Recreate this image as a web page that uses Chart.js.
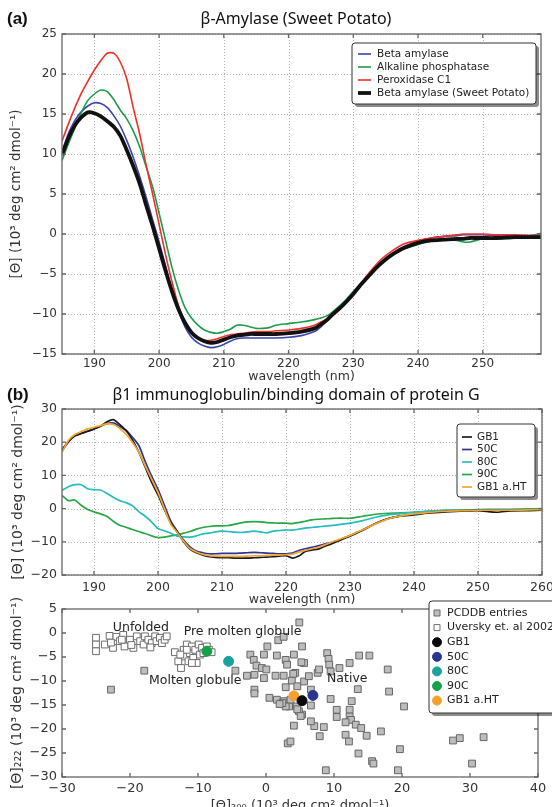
<!DOCTYPE html>
<html>
<head>
<meta charset="utf-8">
<title>CD spectra</title>
<script src="https://cdn.jsdelivr.net/npm/chart.js@4.4.1/dist/chart.umd.min.js"></script>
<style>
  html, body { margin: 0; padding: 0; background: #fff; }
  body { position: relative; width: 552px; height: 807px; overflow: hidden; }
  canvas { position: absolute; left: 0; }
</style>
</head>
<body>
<canvas id="amylase" width="552" height="385" style="top:0px"></canvas>
<canvas id="gb1" width="552" height="230" style="top:380px"></canvas>
<canvas id="cluster" width="552" height="225" style="top:595px"></canvas>
<script>
// (a) beta-amylase CD spectra, wavelength in nm
var waveA = [185,186,187,188,189,190,191,192,193,194,195,196,197,198,199,200,201,202,203,204,205,206,207,208,209,210,211,212,213,214,215,216,217,218,220,222,224,225,226,227,228,229,230,231,232,233,234,235,236,237,238,240,242,244,246,247,248,249,250,252,255,258,259];
var betaAmylase = [10.3,12.6,14.2,15.3,16.0,16.4,16.3,15.8,14.8,13.5, 11.7,9.6,7.2,4.6,1.8,-1.0,-4.0,-7.0,-9.6,-11.6, -12.9,-13.6,-14.0,-14.2,-14.1,-13.8,-13.4,-13.1,-13.0,-13.0, -13.0,-13.0,-13.0,-13.0, -12.9,-12.7,-12.2, -11.6,-10.8,-10.0,-9.2,-8.3,-7.4,-6.4,-5.4,-4.5,-3.7,-3.0,-2.4,-1.9,-1.5, -0.9,-0.5,-0.3,-0.2, -0.1,-0.1,-0.1,-0.1, -0.2,-0.2,-0.2,-0.2];
var alkPhosphatase = [9.2,11.3,13.3,15.2,16.7,17.5,18.0,17.8,16.8,15.5, 14.4,12.9,10.9,8.4,5.9,2.6,-0.8,-4.2,-7.0,-9.2, -10.5,-11.4,-12.0,-12.3,-12.4,-12.2,-11.9,-11.4,-11.4,-11.6, -11.8,-11.8,-11.7,-11.4, -11.2,-11.0,-10.7, -10.5,-10.2,-9.6,-8.9,-8.1,-7.2,-6.3,-5.4,-4.6,-3.8,-3.1,-2.6,-2.1,-1.8, -1.3,-0.9,-0.7,-0.8, -1.0,-1.0,-0.8,-0.6, -0.6,-0.5,-0.1,0.1];
var peroxidaseC1 = [11.6,13.8,15.8,17.6,19.1,20.5,21.7,22.6,22.6,21.5, 19.4,15.8,12.5,8.6,5.0,1.2,-2.6,-6.0,-9.0,-11.1, -12.4,-13.1,-13.3,-13.3,-13.1,-12.8,-12.6,-12.5,-12.4,-12.3, -12.2,-12.2,-12.2,-12.1, -12.0,-11.8,-11.4, -11.0,-10.6,-10.1,-9.4,-8.5,-7.5,-6.4,-5.3,-4.3,-3.4,-2.7,-2.1,-1.6,-1.2, -0.8,-0.5,-0.3,-0.1, 0.0,0.0,0.0,0.0, -0.1,-0.1,-0.2,-0.2];
var sweetPotato = [9.9,12.0,13.6,14.6,15.2,15.1,14.7,14.1,13.4,12.3, 10.5,8.5,6.3,3.6,1.0,-1.8,-4.6,-7.2,-9.4,-11.1, -12.3,-13.0,-13.4,-13.6,-13.5,-13.2,-12.9,-12.7,-12.6,-12.5, -12.5,-12.5,-12.5,-12.5, -12.4,-12.2,-11.8, -11.3,-10.7,-9.9,-9.2,-8.4,-7.5,-6.5,-5.6,-4.7,-3.9,-3.2,-2.6,-2.1,-1.7, -1.1,-0.8,-0.7,-0.6, -0.6,-0.5,-0.5,-0.5, -0.5,-0.4,-0.4,-0.4];
var xTicksA = [190,200,210,220,230,240,250];
var yTicksA = [-15,-10,-5,0,5,10,15,20,25];

// (b) GB1 spectra at different temperatures
var waveB = [185,186,187,188,189,190,191,192,193,194,195,196,197,198,199,200,201,202,203,204,205,206,207,208,209,210,211,212,213,214,215,216,217,218,219,220,221,222,223,224,225,226,227,228,229,230,232,234,236,238,240,242,245,248,250,253,255,258,260];
var gb1Native = [17.8,20.2,21.9,22.6,23.3,24.0,24.8,26.1,26.8,25.4, 23.5,20.7,17.0,12.5,8.0,4.1,-0.3,-4.3,-7.0,-10.0, -12.2,-13.3,-14.0,-14.5,-14.7,-14.8,-14.8,-14.9,-14.9,-14.9, -14.8,-14.7,-14.6,-14.5,-14.3,-14.2,-14.9,-14.3,-12.9,-12.5, -12.2,-11.4,-10.7,-9.9,-9.1,-8.3, -6.5,-4.5,-3.0,-2.2,-1.9,-1.4,-1.0,-0.7,-0.6,-1.1,-0.7,-0.6,-0.5];
var gb1At50 = [17.3,20.0,21.9,22.6,23.3,24.0,24.8,25.6,25.8,24.8, 23.6,21.5,19.0,14.2,9.8,5.8,1.0,-3.8,-6.8,-9.5, -11.5,-12.8,-13.3,-13.6,-13.6,-13.5,-13.5,-13.5,-13.4,-13.3, -13.2,-13.3,-13.4,-13.5,-13.6,-13.6,-13.4,-12.6,-12.1,-11.7, -11.2,-10.7,-10.2,-9.7,-8.9,-8.1, -6.4,-4.5,-3.0,-2.2,-1.7,-1.3,-0.8,-0.6,-0.5,-0.5,-0.5,-0.5,-0.5];
var gb1At80 = [5.5,6.6,7.2,7.2,6.0,5.7,5.6,4.6,3.4,2.4, 1.8,0.9,-0.9,-2.3,-4.0,-6.0,-6.7,-7.4,-8.3,-8.5, -8.6,-8.2,-7.6,-7.4,-7.0,-6.8,-6.9,-7.1,-7.2,-7.0, -6.8,-7.0,-7.3,-6.8,-6.6,-6.4,-6.5,-6.2,-5.9,-5.7, -5.5,-5.3,-5.1,-4.9,-4.6,-4.4, -3.6,-2.6,-1.9,-1.5,-1.1,-0.8,-0.5,-0.5,-0.5,-0.4,-0.4,-0.3,-0.3];
var gb1At90 = [4.0,2.4,2.6,1.0,-0.3,-1.0,-1.6,-2.3,-3.8,-5.0, -5.6,-6.3,-6.9,-7.5,-8.2,-8.7,-8.6,-8.2,-7.9,-7.4, -6.9,-6.2,-5.7,-5.4,-5.2,-5.2,-5.1,-4.7,-4.3,-4.0, -3.9,-4.0,-4.2,-4.3,-4.4,-4.4,-4.5,-4.2,-3.8,-3.4, -3.2,-3.1,-3.0,-2.9,-2.9,-2.9, -2.3,-1.7,-1.4,-1.3,-1.1,-0.8,-0.5,-0.4,-0.3,-0.2,-0.2,-0.1,0.0];
var gb1AfterHeat = [17.0,20.5,22.3,23.2,24.0,24.5,25.0,25.5,25.4,24.2, 22.4,20.0,17.0,12.9,8.9,4.8,0.0,-4.7,-7.2,-9.8, -12.0,-13.1,-13.8,-14.2,-14.3,-14.4,-14.4,-14.4,-14.4,-14.3, -14.2,-14.2,-14.1,-14.0,-14.0,-13.9,-13.7,-13.1,-12.6,-12.1, -11.7,-11.0,-10.2,-9.5,-8.8,-8.1, -6.4,-4.6,-3.1,-2.2,-1.6,-1.2,-0.8,-0.6,-0.5,-0.5,-0.5,-0.4,-0.3];
var xTicksB = [190,200,210,220,230,240,250,260];
var yTicksB = [-20,-10,0,10,20,30];

// (c) [Θ]200 against [Θ]222 for database entries
var pcddbEntries = [[-22.8,-11.8],[-17.9,-7.85],[-4.5,-7.85],[-2.8,-8.9],[-2.3,-4.5],[-1.8,-5.6],[-1.7,-8.7],[-1.4,-6.8],[-0.6,-7.3],[-0.3,-4.5],[-0.3,-9.4],[-1.7,-11.8],[-1.7,-12.6],[0.2,-2.8],[0.05,-7.6],[0.5,-13.5],[1.4,-8.9],[1.6,-4.7],[1.8,-1.5],[2.6,-0.8],[2.6,-8.9],[2.9,-5.6],[1.6,-13.9],[2.6,-14.2],[2.9,-11.3],[3.4,-15.3],[3.6,-13.9],[3.8,-9.9],[4.1,-4.5],[4.1,-19.3],[4.3,-8.3],[4.6,-11.1],[4.9,2.2],[5.3,-2.8],[5.6,-6.25],[5.3,-17.0],[3.2,-23.0],[3.6,-22.6],[3.1,-6.6],[4.0,-8.5],[5.2,-6.1],[5.6,-10.1],[6.3,-9.0],[6.6,-11.8],[7.6,-8.3],[7.8,-7.6],[9.0,-4.2],[9.2,-5.4],[9.3,-6.6],[9.5,-8.0],[10.8,-7.3],[12.3,-6.25],[13.7,-4.7],[15.2,-4.7],[17.9,-7.6],[13.5,-11.7],[18.1,-12.2],[9.5,-13.75],[12.6,-14.2],[20.3,-15.3],[10.4,-16.0],[10.4,-17.5],[12.3,-16.0],[12.3,-17.4],[12.5,-18.1],[11.7,-18.6],[13.2,-19.1],[14.0,-19.8],[14.8,-21.4],[16.9,-20.5],[11.7,-21.2],[12.2,-22.6],[7.9,-21.5],[8.5,-19.6],[7.1,-19.4],[6.6,-18.4],[6.6,-15.1],[4.5,-15.3],[4.85,-16.3],[2.9,-15.3],[2.4,-14.6],[2.0,-14.8],[4.6,-15.9],[5.1,-17.3],[13.6,-25.1],[15.6,-26.7],[15.8,-27.2],[8.8,-28.6],[19.4,-28.6],[19.7,-24.2],[27.5,-22.4],[28.5,-21.9],[32.0,-21.7],[30.3,-27.2]];
var uverskyEntries = [[-25.0,-1.0],[-25.0,-2.4],[-25.0,-3.8],[-23.7,-2.4],[-23.0,-0.6],[-22.5,-3.1],[-22.0,-0.8],[-21.5,-1.7],[-21.0,-0.4],[-20.8,-2.8],[-20.0,-1.4],[-19.5,-3.1],[-19.0,-0.7],[-18.5,-1.7],[-18.0,-2.4],[-17.8,-0.7],[-17.3,-1.4],[-16.8,-2.1],[-16.3,-0.7],[-16.1,-1.7],[-15.6,-1.0],[-15.3,-2.1],[-14.9,-1.4],[-14.6,-0.7],[-19.8,-2.5],[-21.2,-1.4],[-22.8,-2.0],[-17.0,-3.0],[-13.4,-4.0],[-12.9,-5.9],[-12.5,-7.3],[-12.1,-3.5],[-11.9,-4.9],[-11.65,-2.4],[-11.4,-5.9],[-11.2,-4.2],[-10.9,-2.8],[-10.7,-5.2],[-10.4,-3.5],[-10.2,-6.25],[-9.9,-2.4],[-9.7,-4.5],[-9.4,-3.1],[-9.2,-4.2],[-8.7,-2.8],[-8.4,-3.5],[-8.0,-4.0],[-10.9,-6.25],[-11.65,-3.5],[-12.6,-4.5]];
var gb1States = ['GB1', '50C', '80C', '90C', 'GB1 a.HT'];
var gb1Theta200 = [5.3, 6.9, -5.5, -8.7, 4.1];
var gb1Theta222 = [-14.1, -13.0, -5.9, -3.8, -13.1];
var regionNames = ['Unfolded', 'Pre molten globule', 'Molten globule', 'Native'];
var regionX = [-18.4, -3.45, -10.4, 11.95];
var regionY = [1.1, 0.35, -9.85, -9.6];
var xTicksC = [-30,-20,-10,0,10,20,30,40];
var yTicksC = [-30,-25,-20,-15,-10,-5,0,5];

var FONT = "'DejaVu Sans'";
var THETA = '[\u0398]';
var UNITS = ' (10\u00b3 deg cm\u00b2 dmol\u207b\u00b9)';

function pairs(xs, ys) {
  return xs.map(function (x, i) { return {x: x, y: ys[i]}; });
}
function points(list) {
  return list.map(function (p) { return {x: p[0], y: p[1]}; });
}
function fixedTicks(values) {
  return function (scale) {
    scale.ticks = values.map(function (v) { return {value: v}; });
  };
}
function minusSign(v) {
  return String(v).replace('-', '\u2212');
}

function makeScales(c) {
  return {
    x: {
      type: 'linear', min: c.xMin, max: c.xMax,
      afterBuildTicks: fixedTicks(c.xTicks),
      afterFit: function (s) { s.height = c.xHeight; s.paddingLeft = 0; s.paddingRight = 0; },
      grid: {display: false, drawTicks: false},
      border: {display: false},
      ticks: {color: '#333', padding: c.xTickPad, maxRotation: 0, autoSkip: false,
              font: {family: FONT, size: c.tickSize}, callback: minusSign},
      title: {display: true, text: c.xTitle, color: '#333',
              font: {family: FONT, size: c.xTitleSize}, padding: {top: 0, bottom: c.xTitlePad}}
    },
    y: {
      type: 'linear', min: c.yMin, max: c.yMax,
      afterBuildTicks: fixedTicks(c.yTicks),
      afterFit: function (s) { s.width = 62; s.paddingTop = 0; s.paddingBottom = 0; },
      grid: {display: false, drawTicks: false},
      border: {display: false},
      ticks: {color: '#333', padding: 5, autoSkip: false,
              font: {family: FONT, size: c.tickSize}, callback: minusSign},
      title: {display: true, text: c.yTitle, color: '#333',
              font: {family: FONT, size: c.yTitleSize}, padding: {top: c.yTitlePad, bottom: 0}}
    }
  };
}

// dotted grid under the data, box and inward tick marks over it
var frame = {
  id: 'frame',
  beforeDatasetsDraw: function (chart, args, opts) {
    if (!opts.grid) return;
    var a = chart.chartArea, ctx = chart.ctx, sx = chart.scales.x, sy = chart.scales.y;
    ctx.save();
    ctx.strokeStyle = '#b5b5b5';
    ctx.lineWidth = 1;
    ctx.setLineDash([1, 2]);
    ctx.beginPath();
    sx.ticks.forEach(function (t) {
      var px = Math.round(sx.getPixelForValue(t.value)) + 0.5;
      ctx.moveTo(px, a.top); ctx.lineTo(px, a.bottom);
    });
    sy.ticks.forEach(function (t) {
      var py = Math.round(sy.getPixelForValue(t.value)) + 0.5;
      ctx.moveTo(a.left, py); ctx.lineTo(a.right, py);
    });
    ctx.stroke();
    ctx.restore();
  },
  afterDatasetsDraw: function (chart) {
    var a = chart.chartArea, ctx = chart.ctx, sx = chart.scales.x, sy = chart.scales.y;
    ctx.save();
    ctx.strokeStyle = '#666';
    ctx.lineWidth = 1.3;
    ctx.beginPath();
    sx.ticks.forEach(function (t) {
      var px = sx.getPixelForValue(t.value);
      ctx.moveTo(px, a.top); ctx.lineTo(px, a.top + 4);
      ctx.moveTo(px, a.bottom); ctx.lineTo(px, a.bottom - 4);
    });
    sy.ticks.forEach(function (t) {
      var py = sy.getPixelForValue(t.value);
      ctx.moveTo(a.left, py); ctx.lineTo(a.left + 4, py);
      ctx.moveTo(a.right, py); ctx.lineTo(a.right - 4, py);
    });
    ctx.stroke();
    ctx.strokeRect(a.left, a.top, a.right - a.left, a.bottom - a.top);
    ctx.restore();
  }
};

// free text: headings in canvas pixels, region names in data units
var captions = {
  id: 'captions',
  afterDraw: function (chart, args, opts) {
    var ctx = chart.ctx;
    (opts.items || []).forEach(function (it) {
      var x = it.x, y = it.y;
      if (it.data) {
        x = chart.scales.x.getPixelForValue(it.x);
        y = chart.scales.y.getPixelForValue(it.y);
      }
      ctx.save();
      ctx.font = it.font;
      ctx.fillStyle = it.color || '#111';
      ctx.textAlign = it.align || 'center';
      ctx.textBaseline = 'middle';
      ctx.fillText(it.text, x, y);
      ctx.restore();
    });
  }
};

function roundedBox(ctx, x, y, w, h, r) {
  ctx.beginPath();
  ctx.moveTo(x + r, y);
  ctx.lineTo(x + w - r, y); ctx.arcTo(x + w, y, x + w, y + r, r);
  ctx.lineTo(x + w, y + h - r); ctx.arcTo(x + w, y + h, x + w - r, y + h, r);
  ctx.lineTo(x + r, y + h); ctx.arcTo(x, y + h, x, y + h - r, r);
  ctx.lineTo(x, y + r); ctx.arcTo(x, y, x + r, y, r);
  ctx.closePath();
}

// legend box with a drop shadow, placed inside the plot
var boxLegend = {
  id: 'boxLegend',
  afterDraw: function (chart, args, o) {
    if (!o.order) return;
    var ctx = chart.ctx, ds = chart.data.datasets;
    ctx.save();
    ctx.fillStyle = 'rgba(0,0,0,0.45)';
    roundedBox(ctx, o.x + 3, o.y + 3, o.w, o.h, 3);
    ctx.fill();
    ctx.fillStyle = '#fff';
    ctx.strokeStyle = '#333';
    ctx.lineWidth = 1;
    roundedBox(ctx, o.x, o.y, o.w, o.h, 3);
    ctx.fill();
    ctx.stroke();
    ctx.font = o.font;
    ctx.textBaseline = 'middle';
    ctx.textAlign = 'left';
    o.order.forEach(function (k, i) {
      var d = ds[k], y = o.y + o.first + i * o.gap;
      if (o.kind === 'line') {
        ctx.strokeStyle = d.borderColor;
        ctx.lineWidth = d.borderWidth;
        ctx.beginPath();
        ctx.moveTo(o.x + o.mark, y);
        ctx.lineTo(o.x + o.mark + o.len, y);
        ctx.stroke();
      } else {
        ctx.fillStyle = d.backgroundColor;
        ctx.strokeStyle = d.borderColor;
        ctx.lineWidth = 1;
        ctx.beginPath();
        if (d.pointStyle === 'rect') ctx.rect(o.x + o.mark - 3, y - 3, 6, 6);
        else ctx.arc(o.x + o.mark, y, 4.5, 0, Math.PI * 2);
        ctx.fill();
        ctx.stroke();
      }
      ctx.fillStyle = '#222';
      ctx.fillText(d.label, o.x + o.text, y);
    });
    ctx.restore();
  }
};

function lineSet(label, xs, ys, color, width, order) {
  return {label: label, data: pairs(xs, ys), borderColor: color, backgroundColor: color,
          borderWidth: width, pointRadius: 0, tension: 0.25, clip: 0, order: order};
}

Chart.defaults.font.family = FONT;

// (a)
new Chart(document.getElementById('amylase'), {
  type: 'line',
  data: {
    datasets: [
      lineSet('Beta amylase', waveA, betaAmylase, '#3a44b0', 1.6, 3),
      lineSet('Alkaline phosphatase', waveA, alkPhosphatase, '#1c9e48', 1.6, 2),
      lineSet('Peroxidase C1', waveA, peroxidaseC1, '#f0302a', 1.6, 1),
      lineSet('Beta amylase (Sweet Potato)', waveA, sweetPotato, '#111111', 3.8, 0)
    ]
  },
  options: {
    responsive: false, animation: false, events: [],
    layout: {padding: {left: 0, right: 11, top: 34, bottom: 0}},
    scales: makeScales({
      xMin: 185, xMax: 259, xTicks: xTicksA, xHeight: 31, xTickPad: 3, tickSize: 12,
      xTitle: 'wavelength (nm)', xTitleSize: 12.5, xTitlePad: 0.5,
      yMin: -15, yMax: 25, yTicks: yTicksA,
      yTitle: THETA + UNITS, yTitleSize: 13.5, yTitlePad: 8
    }),
    plugins: {
      legend: {display: false}, tooltip: {enabled: false},
      frame: {grid: true},
      captions: {items: [
        {text: '(a)', x: 7, y: 19, align: 'left', font: "bold 17px 'Liberation Sans'"},
        {text: '\u03b2-Amylase (Sweet Potato)', x: 296, y: 19, font: "16px 'Noto Sans'"}
      ]},
      boxLegend: {kind: 'line', order: [0, 1, 2, 3], x: 352, y: 43, w: 184, h: 61,
                  first: 11, gap: 13, mark: 6, len: 13, text: 25, font: "10.5px 'DejaVu Sans'"}
    }
  },
  plugins: [frame, captions, boxLegend]
});

// (b)
new Chart(document.getElementById('gb1'), {
  type: 'line',
  data: {
    datasets: [
      lineSet('GB1', waveB, gb1Native, '#1a1a1a', 1.7, 1),
      lineSet('50C', waveB, gb1At50, '#2b3596', 1.7, 2),
      lineSet('80C', waveB, gb1At80, '#27bcc0', 1.7, 3),
      lineSet('90C', waveB, gb1At90, '#27a845', 1.7, 4),
      lineSet('GB1 a.HT', waveB, gb1AfterHeat, '#f4a52a', 1.7, 0)
    ]
  },
  options: {
    responsive: false, animation: false, events: [],
    layout: {padding: {left: 0, right: 10, top: 29, bottom: 0}},
    scales: makeScales({
      xMin: 185, xMax: 260, xTicks: xTicksB, xHeight: 35, xTickPad: 5, tickSize: 12.5,
      xTitle: 'wavelength (nm)', xTitleSize: 12.5, xTitlePad: 2.5,
      yMin: -20, yMax: 30, yTicks: yTicksB,
      yTitle: THETA + UNITS, yTitleSize: 14, yTitlePad: 10
    }),
    plugins: {
      legend: {display: false}, tooltip: {enabled: false},
      frame: {grid: true},
      captions: {items: [
        {text: '(b)', x: 7, y: 15, align: 'left', font: "bold 17px 'Liberation Sans'"},
        {text: '\u03b21 immunoglobulin/binding domain of protein G', x: 296, y: 15, font: "16px 'Noto Sans'"}
      ]},
      boxLegend: {kind: 'line', order: [0, 1, 2, 3, 4], x: 457, y: 44, w: 78, h: 73,
                  first: 13, gap: 12.5, mark: 5, len: 10, text: 20, font: "10.5px 'DejaVu Sans'"}
    }
  },
  plugins: [frame, captions, boxLegend]
});

// (c)
var stateColors = ['#0a0a0a', '#2a3590', '#19a39b', '#17a24a', '#f2a22c'];
var scatterSets = [
  {label: 'PCDDB entries', data: points(pcddbEntries), pointStyle: 'rect', pointRadius: 4.8,
   backgroundColor: '#bdbdbd', borderColor: '#666', borderWidth: 1, order: 5},
  {label: 'Uversky et. al 2002', data: points(uverskyEntries), pointStyle: 'rect', pointRadius: 4.8,
   backgroundColor: '#ffffff', borderColor: '#6e6e6e', borderWidth: 1, order: 6}
];
gb1States.forEach(function (name, i) {
  scatterSets.push({label: name, data: [{x: gb1Theta200[i], y: gb1Theta222[i]}], pointStyle: 'circle',
    pointRadius: 5, backgroundColor: stateColors[i], borderColor: stateColors[i], borderWidth: 1, order: i});
});

new Chart(document.getElementById('cluster'), {
  type: 'scatter',
  data: {datasets: scatterSets},
  options: {
    responsive: false, animation: false, events: [],
    layout: {padding: {left: 0, right: 14, top: 14, bottom: 0}},
    scales: makeScales({
      xMin: -30, xMax: 40, xTicks: xTicksC, xHeight: 43, xTickPad: 4, tickSize: 13,
      xTitle: THETA + '\u2082\u2080\u2080' + UNITS, xTitleSize: 13, xTitlePad: 7,
      yMin: -30, yMax: 5, yTicks: yTicksC,
      yTitle: THETA + '\u2082\u2082\u2082' + UNITS, yTitleSize: 14, yTitlePad: 8.5
    }),
    plugins: {
      legend: {display: false}, tooltip: {enabled: false},
      frame: {grid: false},
      captions: {items: regionNames.map(function (name, i) {
        return {text: name, x: regionX[i], y: regionY[i], data: true, color: '#222', font: "12.5px 'DejaVu Sans'"};
      })},
      boxLegend: {kind: 'marker', order: [0, 1, 2, 3, 4, 5, 6], x: 429, y: 6, w: 140, h: 112,
                  first: 12, gap: 14.6, mark: 8, text: 18, font: "11px 'DejaVu Sans'"}
    }
  },
  plugins: [frame, captions, boxLegend]
});
</script>
</body>
</html>
